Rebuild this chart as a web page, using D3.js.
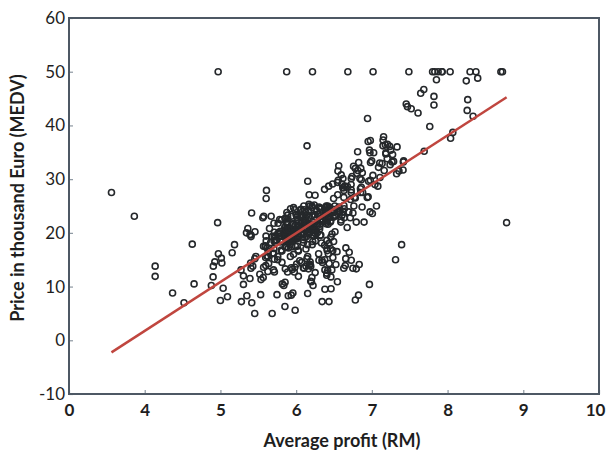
<!DOCTYPE html>
<html>
<head>
<meta charset="utf-8">
<script src="https://cdn.jsdelivr.net/npm/d3@7"></script>
<style>
  body { margin: 0; background: #fff; }
  svg { display: block; font-family: Lato, "Open Sans", sans-serif; }
</style>
</head>
<body>
<div id="chart"></div>
<script>
var svgWidth = 606;
var svgHeight = 457;

var margin = { top: 18, right: 7, bottom: 63, left: 69 };
var width = svgWidth - margin.left - margin.right;
var height = svgHeight - margin.top - margin.bottom;

// [RM, MEDV]
var houses = [
  [6.575,24.0],[6.421,21.6],[7.185,34.7],[6.998,33.4],[7.147,36.2],[6.430,28.7],[6.012,22.9],[6.172,27.1],
  [5.631,16.5],[6.004,18.9],[6.377,15.0],[6.009,18.9],[5.889,21.7],[5.949,20.4],[6.096,18.2],[5.834,19.9],
  [5.935,23.1],[5.990,17.5],[5.456,20.2],[5.727,18.2],[5.570,13.6],[5.965,19.6],[6.142,15.2],[5.813,14.5],
  [5.924,15.6],[5.599,13.9],[5.813,16.6],[6.047,14.8],[6.495,18.4],[6.674,21.0],[5.713,12.7],[6.072,14.5],
  [5.950,13.2],[5.701,13.1],[6.096,13.5],[5.933,18.9],[5.841,20.0],[5.850,21.0],[5.966,24.7],[6.595,30.8],
  [7.024,34.9],[6.770,26.6],[6.169,25.3],[6.211,24.7],[6.069,21.2],[5.682,19.3],[5.786,20.0],[6.030,16.6],
  [5.399,14.4],[5.602,19.4],[5.963,19.7],[6.115,20.5],[6.511,25.0],[5.998,23.4],[5.888,18.9],[7.249,35.4],
  [6.383,24.7],[6.816,31.6],[6.145,23.3],[5.927,19.6],[5.741,18.7],[5.966,16.0],[6.456,22.2],[6.762,25.0],
  [7.104,33.0],[6.290,23.5],[5.787,19.4],[5.878,22.0],[5.594,17.4],[5.885,20.9],[6.417,24.2],[5.961,21.7],
  [6.065,22.8],[6.245,23.4],[6.273,24.1],[6.286,21.4],[6.279,20.0],[6.140,20.8],[6.232,21.2],[5.874,20.3],
  [6.727,28.0],[6.619,23.9],[6.302,24.8],[6.167,22.9],[6.389,23.9],[6.630,26.6],[6.015,22.5],[6.121,22.2],
  [7.007,23.6],[7.079,28.7],[6.417,22.6],[6.405,22.0],[6.442,22.9],[6.211,25.0],[6.249,20.6],[6.625,28.4],
  [6.163,21.4],[8.069,38.7],[7.820,43.8],[7.416,33.2],[6.727,27.5],[6.781,26.5],[6.405,18.6],[6.137,19.3],
  [6.167,20.1],[5.851,19.5],[5.836,19.5],[6.127,20.4],[6.474,19.8],[6.229,19.4],[6.195,21.7],[6.715,22.8],
  [5.913,18.8],[6.092,18.7],[6.254,18.5],[5.928,18.3],[6.176,21.2],[6.021,19.2],[5.872,20.4],[5.731,19.3],
  [5.870,22.0],[6.004,20.3],[5.961,20.5],[5.856,17.3],[5.879,18.8],[5.986,21.4],[5.613,15.7],[5.693,16.2],
  [6.431,18.0],[5.637,14.3],[6.458,19.2],[6.326,19.6],[6.372,23.0],[5.822,18.4],[5.757,15.6],[6.335,18.1],
  [5.942,17.4],[6.454,17.1],[5.857,13.3],[6.151,17.8],[6.174,14.0],[5.019,14.4],[5.403,13.4],[5.468,15.6],
  [4.903,11.8],[6.130,13.8],[5.628,15.6],[4.926,14.6],[5.186,17.8],[5.597,15.4],[6.122,21.5],[5.404,19.6],
  [5.012,15.3],[5.709,19.4],[6.129,17.0],[6.152,15.6],[5.272,13.1],[6.943,41.3],[6.066,24.3],[6.510,23.3],
  [6.250,27.0],[7.489,50.0],[7.802,50.0],[8.375,50.0],[5.854,22.7],[6.101,25.0],[7.929,50.0],[5.877,23.8],
  [6.319,23.8],[6.402,22.3],[5.875,17.4],[5.880,19.1],[5.572,23.1],[6.416,23.6],[5.859,22.6],[6.546,29.4],
  [6.020,23.2],[6.315,24.6],[6.860,29.9],[6.980,37.2],[7.765,39.8],[6.144,36.2],[7.155,37.9],[6.563,32.5],
  [5.604,26.4],[6.153,29.6],[7.831,50.0],[6.782,32.0],[6.556,29.8],[7.185,34.9],[6.951,37.0],[6.739,30.5],
  [7.178,36.4],[6.800,31.1],[6.604,29.1],[7.875,50.0],[7.287,33.3],[7.107,30.3],[7.274,34.6],[6.975,34.9],
  [7.135,32.9],[6.162,24.1],[7.610,42.3],[7.853,48.5],[8.034,50.0],[5.891,22.6],[6.326,24.4],[5.783,22.5],
  [6.064,24.4],[5.344,20.0],[5.960,21.7],[5.404,19.3],[5.807,22.4],[6.375,28.1],[5.412,23.7],[6.182,25.0],
  [5.888,23.3],[6.642,28.7],[5.951,21.5],[6.373,23.0],[6.951,26.7],[6.164,21.7],[6.879,27.5],[6.618,30.1],
  [8.266,44.8],[8.725,50.0],[8.040,37.6],[7.163,31.6],[7.686,46.7],[6.552,31.5],[5.981,24.3],[7.412,31.7],
  [8.337,41.7],[8.247,48.3],[6.726,29.0],[6.086,24.0],[6.631,25.1],[7.358,31.5],[6.481,23.7],[6.606,23.3],
  [6.897,22.0],[6.095,20.1],[6.358,22.2],[6.393,23.7],[5.593,17.6],[5.605,18.5],[6.108,24.3],[6.226,20.5],
  [6.433,24.5],[6.718,26.2],[6.487,24.4],[6.438,24.8],[6.957,29.6],[8.259,42.8],[6.108,21.9],[5.876,20.9],
  [7.454,44.0],[8.704,50.0],[7.333,36.0],[6.842,30.1],[7.203,33.8],[7.520,43.1],[8.398,48.8],[7.327,31.0],
  [7.206,36.5],[5.560,22.8],[7.014,30.7],[8.297,50.0],[7.470,43.5],[5.920,20.7],[5.856,21.1],[6.240,25.2],
  [6.538,24.4],[7.691,35.2],[6.758,32.4],[6.854,32.0],[7.267,33.2],[6.826,33.1],[6.482,29.1],[6.812,35.1],
  [7.820,45.4],[6.968,35.4],[7.645,46.0],[7.923,50.0],[7.088,32.2],[6.453,22.0],[6.230,20.1],[6.209,23.2],
  [6.315,22.3],[6.565,24.8],[6.861,28.5],[7.148,37.3],[6.630,27.9],[6.127,23.9],[6.009,21.7],[6.678,28.6],
  [6.549,27.1],[5.790,20.3],[6.345,22.5],[7.041,29.0],[6.871,24.8],[6.590,22.0],[6.495,26.4],[6.982,33.1],
  [7.236,36.1],[6.616,28.4],[7.420,33.4],[6.849,28.2],[6.635,22.8],[5.972,20.3],[4.973,16.1],[6.122,22.1],
  [6.023,19.4],[6.266,21.6],[6.567,23.8],[5.705,16.2],[5.914,17.8],[5.782,19.8],[6.382,23.1],[6.113,21.0],
  [6.426,23.8],[6.376,23.1],[6.041,20.4],[5.708,18.5],[6.415,25.0],[6.431,24.6],[6.312,23.0],[6.083,22.2],
  [5.868,19.3],[6.333,22.6],[6.144,19.8],[5.706,17.1],[6.031,19.4],[6.316,22.2],[6.310,20.7],[6.037,21.1],
  [5.869,19.5],[5.895,18.5],[6.059,20.6],[5.985,19.0],[5.968,18.7],[7.241,32.7],[6.540,16.5],[6.696,23.9],
  [6.874,31.2],[6.014,17.5],[5.898,17.2],[6.516,23.1],[6.635,24.5],[6.939,26.6],[6.490,22.9],[6.579,24.1],
  [5.884,18.6],[6.728,30.1],[5.663,18.2],[5.936,20.6],[6.212,17.8],[6.395,21.7],[6.127,22.7],[6.112,22.6],
  [6.398,25.0],[6.251,19.9],[5.362,20.8],[5.803,16.8],[8.780,21.9],[3.561,27.5],[4.963,21.9],[3.863,23.1],
  [4.970,50.0],[6.683,50.0],[7.016,50.0],[6.216,50.0],[5.875,50.0],[4.906,13.8],[4.138,13.8],[7.313,15.0],
  [6.649,13.9],[6.794,13.3],[6.380,13.1],[6.223,10.2],[6.968,10.4],[6.545,10.9],[5.536,11.3],[5.520,12.3],
  [4.368,8.8],[5.277,7.2],[4.652,10.5],[5.000,7.4],[4.880,10.2],[5.390,11.5],[5.713,15.1],[6.051,23.2],
  [5.036,9.7],[6.193,13.8],[5.887,12.7],[6.471,13.1],[6.405,12.5],[5.747,8.5],[5.453,5.0],[5.852,6.3],
  [5.987,5.6],[6.343,7.2],[6.404,12.1],[5.349,8.3],[5.531,8.5],[5.683,5.0],[4.138,11.9],[5.608,27.9],
  [5.617,17.2],[6.852,27.5],[5.757,15.0],[6.657,17.2],[4.628,17.9],[5.155,16.3],[4.519,7.0],[6.434,7.2],
  [6.782,7.5],[5.304,10.4],[5.957,8.8],[6.824,8.4],[6.411,16.7],[6.006,14.2],[5.648,20.8],[6.103,13.4],
  [5.565,11.7],[5.896,8.3],[5.837,10.2],[6.202,10.9],[6.193,11.0],[6.380,9.5],[6.348,14.5],[6.833,14.1],
  [6.425,16.1],[6.436,14.3],[6.208,11.7],[6.629,13.4],[6.461,9.6],[6.152,8.7],[5.935,8.4],[5.627,12.8],
  [5.818,10.5],[6.406,17.1],[6.219,18.4],[6.485,15.4],[5.854,10.8],[6.459,11.8],[6.341,14.9],[6.251,12.6],
  [6.185,14.1],[6.417,13.0],[6.749,13.4],[6.655,15.2],[6.297,16.1],[7.393,17.8],[6.728,14.9],[6.525,14.1],
  [5.976,12.7],[5.936,13.5],[6.301,14.9],[6.081,20.0],[6.701,16.4],[6.376,17.7],[6.317,19.5],[6.513,20.2],
  [6.209,21.4],[5.759,19.9],[5.952,19.0],[6.003,19.1],[5.926,19.1],[5.713,20.1],[6.167,19.9],[6.229,19.6],
  [6.437,23.2],[6.980,29.8],[5.427,13.8],[6.162,13.3],[6.484,16.7],[5.304,12.0],[6.185,14.6],[6.229,21.4],
  [6.242,23.0],[6.750,23.7],[7.061,25.0],[5.762,21.8],[5.871,20.6],[6.312,21.2],[6.114,19.1],[5.905,20.6],
  [5.454,15.2],[5.414,7.0],[5.093,8.1],[5.983,13.6],[5.983,20.1],[5.707,21.8],[5.926,24.5],[5.670,23.1],
  [5.390,19.7],[5.794,18.3],[6.019,21.2],[5.569,17.5],[6.027,16.8],[6.593,22.4],[6.120,20.6],[6.976,23.9],
  [6.794,22.0],[6.030,11.9]
];

// least-squares fit drawn over the points
var fitSlope = 9.102;
var fitIntercept = -34.671;
var fitRange = [3.561, 8.78];

var xTicks = [3, 4, 5, 6, 7, 8, 9, 10];
var xTickLabels = ["0", "4", "5", "6", "7", "8", "9", "10"];
var yTicks = [-10, 0, 10, 20, 30, 40, 50, 60];

var svg = d3.select("#chart").append("svg")
  .attr("width", svgWidth)
  .attr("height", svgHeight);

var chartGroup = svg.append("g")
  .attr("transform", `translate(${margin.left}, ${margin.top})`);

var xLinearScale = d3.scaleLinear().domain([3, 10]).range([0, width]);
var yLinearScale = d3.scaleLinear().domain([-10, 60]).range([height, 0]);

var bottomAxis = d3.axisBottom(xLinearScale)
  .tickValues(xTicks)
  .tickFormat((d, i) => xTickLabels[i])
  .tickSizeInner(-4)
  .tickSizeOuter(0)
  .tickPadding(10);

var leftAxis = d3.axisLeft(yLinearScale)
  .tickValues(yTicks)
  .tickFormat(d => String(d))
  .tickSizeInner(-4)
  .tickSizeOuter(0)
  .tickPadding(4);

var xAxis = chartGroup.append("g")
  .attr("transform", `translate(0, ${height})`)
  .call(bottomAxis);

var yAxis = chartGroup.append("g")
  .call(leftAxis);

[xAxis, yAxis].forEach(function(ax) {
  ax.select(".domain").remove();
  ax.selectAll("line").attr("stroke", "#8c96a0").attr("stroke-width", 1.2);
  ax.selectAll("text")
    .attr("fill", "#1e1e1e")
    .attr("font-family", "Lato, sans-serif")
    .attr("font-size", "17px");
});
xAxis.selectAll("text").attr("font-weight", "bold");
// last label sits against the right edge
xAxis.selectAll(".tick text").filter(d => d === 10).attr("dx", "-4");

chartGroup.append("g")
  .selectAll("circle")
  .data(houses)
  .enter()
  .append("circle")
  .attr("cx", d => xLinearScale(d[0]))
  .attr("cy", d => yLinearScale(d[1]))
  .attr("r", 3)
  .attr("fill", "none")
  .attr("stroke", "#25282b")
  .attr("stroke-width", 1.6);

chartGroup.append("line")
  .attr("x1", xLinearScale(fitRange[0]))
  .attr("y1", yLinearScale(fitSlope * fitRange[0] + fitIntercept))
  .attr("x2", xLinearScale(fitRange[1]))
  .attr("y2", yLinearScale(fitSlope * fitRange[1] + fitIntercept))
  .attr("stroke", "#c0463f")
  .attr("stroke-width", 2.5);

chartGroup.append("rect")
  .attr("width", width)
  .attr("height", height)
  .attr("fill", "none")
  .attr("stroke", "#4d5864")
  .attr("stroke-width", 2);

chartGroup.append("text")
  .attr("x", width / 2 + 8)
  .attr("y", height + 53)
  .attr("text-anchor", "middle")
  .attr("font-size", "18px")
  .attr("font-weight", "bold")
  .attr("fill", "#1e1e1e")
  .text("Average profit (RM)");

chartGroup.append("text")
  .attr("transform", "rotate(-90)")
  .attr("x", -180)
  .attr("y", -45)
  .attr("text-anchor", "middle")
  .attr("font-size", "18px")
  .attr("font-weight", "bold")
  .attr("fill", "#1e1e1e")
  .text("Price in thousand Euro (MEDV)");
</script>
</body>
</html>
